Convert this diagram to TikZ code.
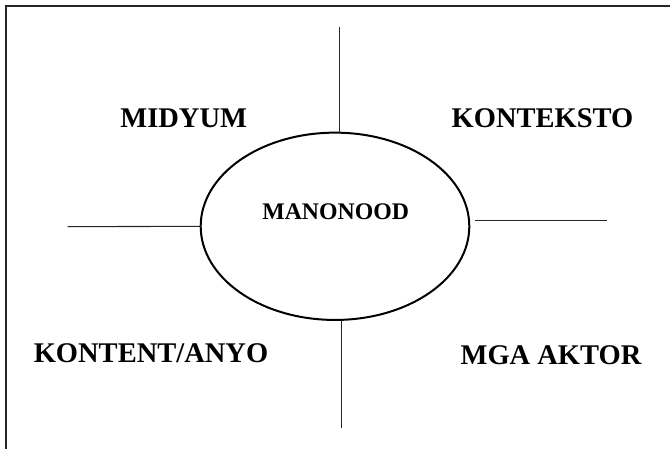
\documentclass[tikz,border=0pt]{standalone}
\usepackage{fontspec}
\setmainfont{Liberation Serif}
\usetikzlibrary{shapes.geometric}
\begin{document}
\begin{tikzpicture}[x=1pt,y=-1pt,
  biglabel/.style={font=\fontsize{28.5}{30}\selectfont\bfseries, inner sep=0pt, anchor=base},
  smalllabel/.style={font=\fontsize{23.8}{25}\selectfont\bfseries, inner sep=0pt, anchor=base},
  thinline/.style={line width=1.1pt, draw=black!85},
  oval/.style={ellipse, draw, line width=2pt, inner sep=0pt, outer sep=0pt,
    minimum width=268.6pt, minimum height=187.3pt}]
\useasboundingbox (0,0) rectangle (670,449);
% frame (top and left edges)
\coordinate (fbl) at (5.5,449);
\coordinate (ftl) at (5.5,6);
\coordinate (ftr) at (670,6);
\draw[line width=2pt, draw=black!85] (fbl) -- (ftl) -- (ftr);
% central ellipse
\node[oval] (ell) at (335,226.3) {};
\node[smalllabel] (man) at (335.7,219.5) {MANONOOD};
% quadrant labels
\node[biglabel] (mid) at (183.7,127.5) {MIDYUM};
\node[biglabel] (kon) at (542.5,128) {KONTEKSTO};
\node[biglabel] (kan) at (151,362.5) {KONTENT/ANYO};
\node[biglabel] (akt) at (551,364) {MGA AKTOR};
% cross lines
\coordinate (top) at (339.7,27);
\coordinate (bot) at (341.3,427.7);
\coordinate (lft) at (67.7,226.7);
\coordinate (r1) at (475,220.7);
\coordinate (r2) at (607,220.7);
\draw[thinline] (top) -- (top |- ell.north);
\draw[thinline] (bot |- ell.south) -- (bot);
\draw[thinline] (lft) -- (ell.west);
\draw[thinline] (r1) -- (r2);
\end{tikzpicture}
\end{document}
